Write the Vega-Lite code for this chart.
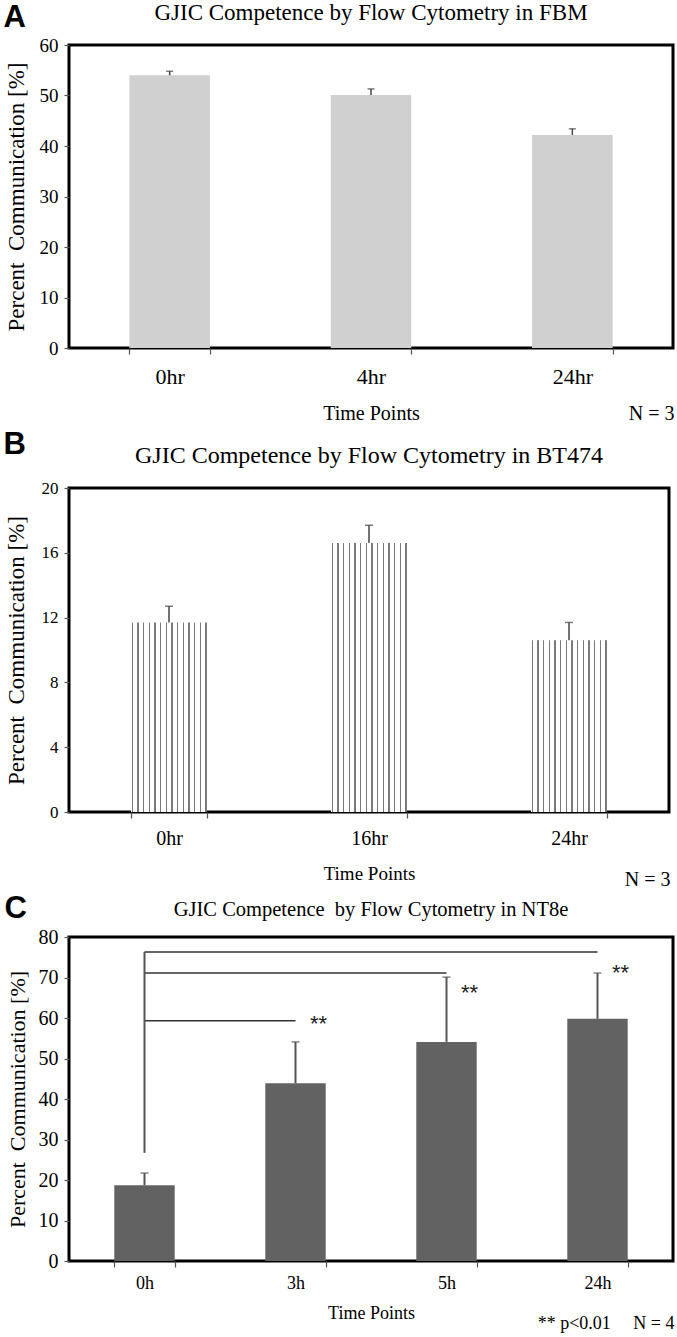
{
  "$schema": "https://vega.github.io/schema/vega-lite/v6.json",
  "background": "white",
  "padding": {"left": 3, "top": 0, "right": 0, "bottom": 0},
  "spacing": 3,
  "config": {
    "font": "Liberation Serif",
    "view": {"stroke": "black", "strokeWidth": 3},
    "axis": {"grid": false, "domain": false, "labelColor": "black", "titleColor": "black", "titleFontWeight": "normal", "labelFont": "Liberation Serif", "titleFont": "Liberation Serif", "tickColor": "#555", "tickWidth": 1.2, "labelOverlap": false},
    "title": {"font": "Liberation Serif", "fontWeight": "normal", "color": "black"}
  },
  "datasets": {
    "A": [
      {"time": "0hr", "value": 54.0, "upper": 54.8},
      {"time": "4hr", "value": 50.1, "upper": 51.3},
      {"time": "24hr", "value": 42.2, "upper": 43.4}
    ],
    "B": [
      {"time": "0hr", "value": 11.7, "upper": 12.7},
      {"time": "16hr", "value": 16.6, "upper": 17.7},
      {"time": "24hr", "value": 10.6, "upper": 11.7}
    ],
    "C": [
      {"time": "0h", "value": 18.7, "upper": 21.7},
      {"time": "3h", "value": 43.9, "upper": 54.1},
      {"time": "5h", "value": 54.1, "upper": 70.1},
      {"time": "24h", "value": 59.8, "upper": 71.1}
    ],
    "sig": [
      {"start": "0h", "end": "3h", "level": 59.3},
      {"start": "0h", "end": "5h", "level": 71.1},
      {"start": "0h", "end": "24h", "level": 76.3}
    ],
    "vline": [
      {"time": "0h", "from": 26.7, "to": 76.3}
    ],
    "stars": [
      {"time": "3h", "level": 59.8, "label": "**"},
      {"time": "5h", "level": 67.4, "label": "**"},
      {"time": "24h", "level": 72.3, "label": "**"}
    ]
  },
  "vconcat": [
    {
      "title": {"text": "A", "anchor": "start", "frame": "bounds", "font": "Liberation Sans", "fontWeight": "bold", "fontSize": 31, "offset": -33},
      "vconcat": [{
        "title": {"text": "N = 3", "orient": "bottom", "anchor": "end", "fontSize": 20, "offset": -21},
        "vconcat": [{
          "width": 604, "height": 303,
          "title": {"text": "GJIC Competence by Flow Cytometry in FBM", "fontSize": 23, "offset": 11},
          "data": {"name": "A"},
          "encoding": {
            "x": {"field": "time", "type": "nominal", "sort": null, "title": "Time Points",
                  "scale": {"paddingInner": 0.6, "paddingOuter": 0.3},
                  "axis": {"labelAngle": 0, "labelFontSize": 22, "titleFontSize": 20, "tickBand": "extent", "tickSize": 6, "labelPadding": 12, "titlePadding": 16}}
          },
          "layer": [
            {"mark": {"type": "bar", "fill": "#d0d0d0"},
             "encoding": {"y": {"field": "value", "type": "quantitative", "title": "Percent\u00a0\u00a0Communication [%]", "scale": {"domain": [0, 60]},
               "axis": {"values": [0, 10, 20, 30, 40, 50, 60], "labelFontSize": 19, "titleFontSize": 23, "tickSize": 5, "labelPadding": 6, "titlePadding": 11}}}},
            {"mark": {"type": "rule", "color": "#444", "strokeWidth": 1.5},
             "encoding": {"y": {"field": "value", "type": "quantitative", "title": "Percent\u00a0\u00a0Communication [%]", "scale": {"domain": [0, 60]}}, "y2": {"field": "upper"}}},
            {"mark": {"type": "tick", "color": "#444", "size": 7, "thickness": 1.5},
             "encoding": {"y": {"field": "upper", "type": "quantitative", "title": "Percent\u00a0\u00a0Communication [%]", "scale": {"domain": [0, 60]}}}}
          ]
        }]
      }]
    },
    {
      "title": {"text": "B", "anchor": "start", "frame": "bounds", "font": "Liberation Sans", "fontWeight": "bold", "fontSize": 31, "offset": -18},
      "vconcat": [{
        "title": {"text": "N = 3", "orient": "bottom", "anchor": "end", "fontSize": 20, "offset": -15},
        "vconcat": [{
          "width": 600, "height": 324,
          "title": {"text": "GJIC Competence by Flow Cytometry in BT474", "fontSize": 24, "offset": 11},
          "data": {"name": "B"},
          "encoding": {
            "x": {"field": "time", "type": "nominal", "sort": null, "title": "Time Points",
                  "scale": {"paddingInner": 0.62, "paddingOuter": 0.31},
                  "axis": {"labelAngle": 0, "labelFontSize": 20, "titleFontSize": 19, "tickBand": "extent", "tickSize": 6, "labelPadding": 10, "titlePadding": 16}}
          },
          "layer": [
            {"mark": {"type": "bar", "fill": {"gradient": "linear", "x1": 0, "y1": 0, "x2": 1, "y2": 0, "stops": [
                {"offset": 0, "color": "#ffffff"},
                {"offset": 0.009, "color": "#ffffff"}, {"offset": 0.009, "color": "#7a7a7a"}, {"offset": 0.027, "color": "#7a7a7a"}, {"offset": 0.027, "color": "#ffffff"},
                {"offset": 0.0835, "color": "#ffffff"}, {"offset": 0.0835, "color": "#7a7a7a"}, {"offset": 0.1015, "color": "#7a7a7a"}, {"offset": 0.1015, "color": "#ffffff"},
                {"offset": 0.158, "color": "#ffffff"}, {"offset": 0.158, "color": "#7a7a7a"}, {"offset": 0.176, "color": "#7a7a7a"}, {"offset": 0.176, "color": "#ffffff"},
                {"offset": 0.2325, "color": "#ffffff"}, {"offset": 0.2325, "color": "#7a7a7a"}, {"offset": 0.2505, "color": "#7a7a7a"}, {"offset": 0.2505, "color": "#ffffff"},
                {"offset": 0.307, "color": "#ffffff"}, {"offset": 0.307, "color": "#7a7a7a"}, {"offset": 0.325, "color": "#7a7a7a"}, {"offset": 0.325, "color": "#ffffff"},
                {"offset": 0.3815, "color": "#ffffff"}, {"offset": 0.3815, "color": "#7a7a7a"}, {"offset": 0.3995, "color": "#7a7a7a"}, {"offset": 0.3995, "color": "#ffffff"},
                {"offset": 0.456, "color": "#ffffff"}, {"offset": 0.456, "color": "#7a7a7a"}, {"offset": 0.474, "color": "#7a7a7a"}, {"offset": 0.474, "color": "#ffffff"},
                {"offset": 0.5305, "color": "#ffffff"}, {"offset": 0.5305, "color": "#7a7a7a"}, {"offset": 0.5485, "color": "#7a7a7a"}, {"offset": 0.5485, "color": "#ffffff"},
                {"offset": 0.605, "color": "#ffffff"}, {"offset": 0.605, "color": "#7a7a7a"}, {"offset": 0.623, "color": "#7a7a7a"}, {"offset": 0.623, "color": "#ffffff"},
                {"offset": 0.6795, "color": "#ffffff"}, {"offset": 0.6795, "color": "#7a7a7a"}, {"offset": 0.6975, "color": "#7a7a7a"}, {"offset": 0.6975, "color": "#ffffff"},
                {"offset": 0.754, "color": "#ffffff"}, {"offset": 0.754, "color": "#7a7a7a"}, {"offset": 0.772, "color": "#7a7a7a"}, {"offset": 0.772, "color": "#ffffff"},
                {"offset": 0.8285, "color": "#ffffff"}, {"offset": 0.8285, "color": "#7a7a7a"}, {"offset": 0.8465, "color": "#7a7a7a"}, {"offset": 0.8465, "color": "#ffffff"},
                {"offset": 0.903, "color": "#ffffff"}, {"offset": 0.903, "color": "#7a7a7a"}, {"offset": 0.921, "color": "#7a7a7a"}, {"offset": 0.921, "color": "#ffffff"},
                {"offset": 0.9775, "color": "#ffffff"}, {"offset": 0.9775, "color": "#7a7a7a"}, {"offset": 0.9955, "color": "#7a7a7a"}, {"offset": 0.9955, "color": "#ffffff"},
                {"offset": 1, "color": "#ffffff"}
              ]}},
             "encoding": {"y": {"field": "value", "type": "quantitative", "title": "Percent\u00a0\u00a0Communication [%]", "scale": {"domain": [0, 20]},
               "axis": {"values": [0, 2, 4, 6, 8, 10, 12, 14, 16, 18, 20], "labelFontSize": 17, "titleFontSize": 23, "tickSize": 5, "labelPadding": 6, "titlePadding": 13}}}},
            {"mark": {"type": "rule", "color": "#444", "strokeWidth": 1.5},
             "encoding": {"y": {"field": "value", "type": "quantitative", "title": "Percent\u00a0\u00a0Communication [%]", "scale": {"domain": [0, 20]}}, "y2": {"field": "upper"}}},
            {"mark": {"type": "tick", "color": "#444", "size": 8, "thickness": 1.5},
             "encoding": {"y": {"field": "upper", "type": "quantitative", "title": "Percent\u00a0\u00a0Communication [%]", "scale": {"domain": [0, 20]}}}}
          ]
        }]
      }]
    },
    {
      "title": {"text": "C", "anchor": "start", "frame": "bounds", "font": "Liberation Sans", "fontWeight": "bold", "fontSize": 31, "offset": -27},
      "vconcat": [{
        "title": {"text": "**\u00a0p<0.01\u00a0\u00a0\u00a0\u00a0\u00a0N = 4", "orient": "bottom", "anchor": "end", "fontSize": 18, "offset": -9},
        "vconcat": [{
          "width": 604, "height": 324,
          "title": {"text": "GJIC Competence\u00a0\u00a0by Flow Cytometry in NT8e", "fontSize": 20.5, "offset": 7},
          "encoding": {
            "x": {"field": "time", "type": "nominal", "title": "Time Points",
                  "scale": {"domain": ["0h", "3h", "5h", "24h"], "paddingInner": 0.6, "paddingOuter": 0.3},
                  "axis": {"labelAngle": 0, "labelFontSize": 18, "titleFontSize": 18, "tickBand": "extent", "tickSize": 6, "labelPadding": 7, "titlePadding": 12}}
          },
          "layer": [
            {"data": {"name": "C"}, "mark": {"type": "bar", "fill": "#626262"},
             "encoding": {"y": {"field": "value", "type": "quantitative", "title": "Percent\u00a0\u00a0Communication [%]", "scale": {"domain": [0, 80]},
               "axis": {"values": [0, 10, 20, 30, 40, 50, 60, 70, 80], "labelFontSize": 20, "titleFontSize": 22, "tickSize": 5, "labelPadding": 6, "titlePadding": 9}}}},
            {"data": {"name": "C"}, "mark": {"type": "rule", "color": "#555", "strokeWidth": 2},
             "encoding": {"y": {"field": "value", "type": "quantitative", "title": "Percent\u00a0\u00a0Communication [%]", "scale": {"domain": [0, 80]}}, "y2": {"field": "upper"}}},
            {"data": {"name": "C"}, "mark": {"type": "tick", "color": "#555", "size": 8, "thickness": 1.5},
             "encoding": {"y": {"field": "upper", "type": "quantitative", "title": "Percent\u00a0\u00a0Communication [%]", "scale": {"domain": [0, 80]}}}},
            {"data": {"name": "sig"}, "mark": {"type": "rule", "color": "#333", "strokeWidth": 1.5},
             "encoding": {
               "x": {"field": "start", "type": "nominal", "title": "Time Points"},
               "x2": {"field": "end"},
               "y": {"field": "level", "type": "quantitative", "title": "Percent\u00a0\u00a0Communication [%]", "scale": {"domain": [0, 80]}}}},
            {"data": {"name": "vline"}, "mark": {"type": "rule", "color": "#555", "strokeWidth": 2},
             "encoding": {
               "y": {"field": "from", "type": "quantitative", "title": "Percent\u00a0\u00a0Communication [%]", "scale": {"domain": [0, 80]}},
               "y2": {"field": "to"}}},
            {"data": {"name": "stars"}, "mark": {"type": "text", "font": "Liberation Sans", "fontSize": 22, "dx": 23, "dy": 5, "baseline": "middle", "color": "#222"},
             "encoding": {
               "y": {"field": "level", "type": "quantitative", "title": "Percent\u00a0\u00a0Communication [%]", "scale": {"domain": [0, 80]}},
               "text": {"field": "label"}}}
          ]
        }]
      }]
    }
  ]
}
